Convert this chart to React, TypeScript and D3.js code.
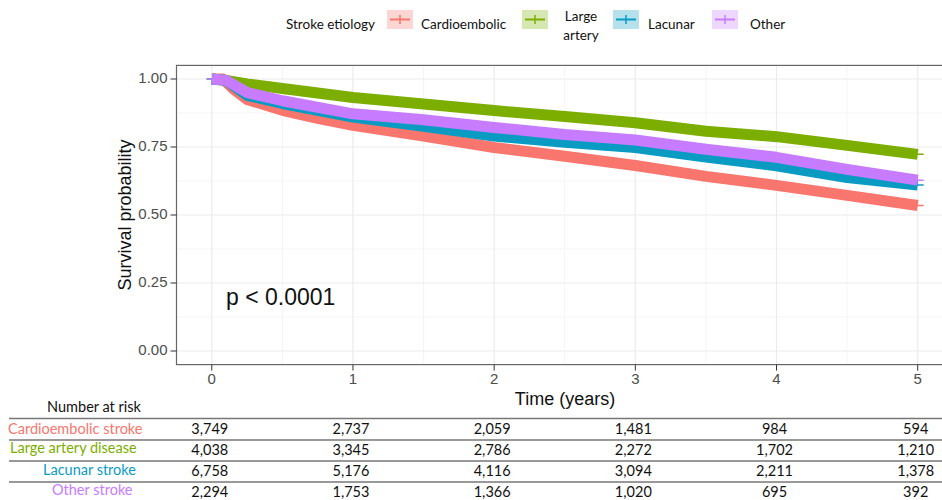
import React from 'react';
import * as d3 from 'd3';

// survival estimates (time in years, probability)
const cardioTimes = [0, 0.08, 0.15, 0.25, 0.5, 0.75, 1, 1.5, 2, 2.5, 3, 3.5, 4, 4.5, 5];
const cardioSurv = [1, 1, 0.965, 0.925, 0.885, 0.855, 0.83, 0.79, 0.748, 0.716, 0.682, 0.642, 0.609, 0.572, 0.535];
const largeTimes = [0, 0.1, 0.25, 0.5, 1, 1.5, 2, 2.5, 3, 3.5, 4, 4.5, 5];
const largeSurv = [1, 0.995, 0.982, 0.965, 0.932, 0.908, 0.884, 0.862, 0.839, 0.808, 0.788, 0.756, 0.723];
const lacunarTimes = [0, 0.1, 0.25, 0.5, 1, 1.5, 2, 2.5, 3, 3.5, 4, 4.5, 5];
const lacunarSurv = [1, 0.995, 0.94, 0.91, 0.86, 0.826, 0.79, 0.767, 0.748, 0.713, 0.681, 0.638, 0.61];
const otherTimes = [0, 0.1, 0.25, 0.5, 1, 1.5, 2, 2.5, 3, 3.5, 4, 4.5, 5];
const otherSurv = [1, 0.995, 0.95, 0.92, 0.872, 0.85, 0.822, 0.796, 0.776, 0.742, 0.712, 0.668, 0.628];

const legendLabels = ['Cardioembolic', 'Large\nartery', 'Lacunar', 'Other'];
const colors = ['#F8766D', '#7CAE00', '#0A9BC2', '#C77CFF'];
const tableLabels = ['Cardioembolic stroke', 'Large artery disease', 'Lacunar stroke', 'Other stroke'];
const tableTimes = [0, 1, 2, 3, 4, 5];
const riskCardio = ['3,749', '2,737', '2,059', '1,481', '984', '594'];
const riskLarge = ['4,038', '3,345', '2,786', '2,272', '1,702', '1,210'];
const riskLacunar = ['6,758', '5,176', '4,116', '3,094', '2,211', '1,378'];
const riskOther = ['2,294', '1,753', '1,366', '1,020', '695', '392'];
const xTicks = [0, 1, 2, 3, 4, 5];
const yTicks = [0, 0.25, 0.5, 0.75, 1];

const W = 942, H = 500;
const axisFont = 'Liberation Sans, Arial, sans-serif';
const tableFont = 'Lato, Liberation Sans, sans-serif';

export default function App() {
  const x = d3.scaleLinear().domain([-0.25, 5.25]).range([176.5, 953]);
  const y = d3.scaleLinear().domain([-0.05, 1.05]).range([364.6, 65.4]);

  const series = [
    { t: cardioTimes, s: cardioSurv },
    { t: largeTimes, s: largeSurv },
    { t: lacunarTimes, s: lacunarSurv },
    { t: otherTimes, s: otherSurv },
  ];
  const line = d3.line<[number, number]>().x(d => x(d[0])).y(d => y(d[1]));
  const risks = [riskCardio, riskLarge, riskLacunar, riskOther];

  const minorX = xTicks.slice(0, -1).map(v => v + 0.5);
  const minorY = yTicks.slice(0, -1).map(v => v + 0.125);

  const [px0, px1] = x.range();
  const [py0, py1] = y.range();

  // legend layout (x of key box, label x)
  const keyX = [387, 522, 613, 712];
  const labX = [421, 581, 648, 750];

  const rowLabelX = [8, 10, 43, 52];
  const rowLabelY = [430, 449, 471, 491];
  const rowNumY = [430, 451.5, 472.5, 493];
  const ruleY = [418.5, 440, 461, 482];

  return (
    <svg width={W} height={H} style={{ position: 'absolute', left: 0, top: 0, background: '#fff' }}>
      <defs>
        <clipPath id="panel">
          <rect x={px0} y={py1} width={px1 - px0} height={py0 - py1} />
        </clipPath>
      </defs>

      {/* legend */}
      <g fontFamily={tableFont} fontSize={13.5} fill="#111">
        <text x={286} y={26} dominantBaseline="middle">Stroke etiology</text>
        {legendLabels.map((lab, i) => (
          <g key={lab}>
            <rect x={keyX[i]} y={10} width={26} height={19} fill={colors[i]} fillOpacity={0.3} />
            <line x1={keyX[i] + 3} x2={keyX[i] + 23} y1={19.5} y2={19.5} stroke={colors[i]} strokeWidth={2} />
            <line x1={keyX[i] + 13} x2={keyX[i] + 13} y1={15} y2={24} stroke={colors[i]} strokeWidth={1.5} />
            {lab.includes('\n') ? (
              <text x={labX[i]} y={18} textAnchor="middle" dominantBaseline="middle">
                <tspan x={labX[i]} y={18}>{lab.split('\n')[0]}</tspan>
                <tspan x={labX[i]} y={37}>{lab.split('\n')[1]}</tspan>
              </text>
            ) : (
              <text x={labX[i]} y={26} dominantBaseline="middle">{lab}</text>
            )}
          </g>
        ))}
      </g>

      {/* grid */}
      <g>
        {minorX.map(v => (
          <line key={'mx' + v} x1={x(v)} x2={x(v)} y1={py1} y2={py0} stroke="#F2F2F2" strokeWidth={0.8} />
        ))}
        {minorY.map(v => (
          <line key={'my' + v} x1={px0} x2={px1} y1={y(v)} y2={y(v)} stroke="#F2F2F2" strokeWidth={0.8} />
        ))}
        {xTicks.map(v => (
          <line key={'gx' + v} x1={x(v)} x2={x(v)} y1={py1} y2={py0} stroke="#EBEBEB" strokeWidth={1.2} />
        ))}
        {yTicks.map(v => (
          <line key={'gy' + v} x1={px0} x2={px1} y1={y(v)} y2={y(v)} stroke="#EBEBEB" strokeWidth={1.2} />
        ))}
      </g>

      {/* curves: dense censor ticks make them look like bands */}
      <g clipPath="url(#panel)">
        {series.map((sr, i) => {
          const pts = sr.t.map((t, j) => [t, sr.s[j]] as [number, number]);
          const last = pts[pts.length - 1];
          return (
            <g key={i}>
              <path d={line(pts) || ''} fill="none" stroke={colors[i]} strokeWidth={11} strokeLinejoin="round" />
              <line x1={x(last[0]) - 5} x2={x(last[0]) + 6} y1={y(last[1])} y2={y(last[1])} stroke={colors[i]} strokeWidth={1.5} />
              <line x1={x(0) - 5} x2={x(0)} y1={y(1)} y2={y(1)} stroke={colors[i]} strokeWidth={1.5} />
            </g>
          );
        })}
      </g>

      {/* panel border */}
      <rect x={px0} y={py1} width={px1 - px0} height={py0 - py1} fill="none" stroke="#666" strokeWidth={1.2} />

      {/* axes */}
      <g fontFamily={axisFont} fontSize={15} fill="#4D4D4D">
        {yTicks.map(v => (
          <g key={'yt' + v}>
            <line x1={px0 - 6} x2={px0} y1={y(v)} y2={y(v)} stroke="#333" strokeWidth={1} />
            <text x={px0 - 9} y={y(v)} textAnchor="end" dominantBaseline="middle">{d3.format('.2f')(v)}</text>
          </g>
        ))}
        {xTicks.map(v => (
          <g key={'xt' + v}>
            <line x1={x(v)} x2={x(v)} y1={py0} y2={py0 + 6} stroke="#333" strokeWidth={1} />
            <text x={x(v)} y={380} textAnchor="middle" dominantBaseline="middle">{v}</text>
          </g>
        ))}
      </g>
      <text x={126} y={215} transform="rotate(-90,126,215)" textAnchor="middle" dominantBaseline="middle"
        fontFamily={axisFont} fontSize={18} fill="#111">Survival probability</text>
      <text x={565} y={400} textAnchor="middle" dominantBaseline="middle"
        fontFamily={axisFont} fontSize={18} fill="#111">Time (years)</text>
      <text x={226} y={305} fontFamily={axisFont} fontSize={23} fill="#111">p &lt; 0.0001</text>

      {/* risk table */}
      <g fontFamily={tableFont} fontSize={14.5}>
        <text x={94} y={408} textAnchor="middle" dominantBaseline="middle" fill="#111">Number at risk</text>
        {ruleY.map(v => (
          <line key={'r' + v} x1={9} x2={W} y1={v} y2={v} stroke="#777" strokeWidth={1.6} />
        ))}
        {tableLabels.map((lab, i) => (
          <text key={lab} x={rowLabelX[i]} y={rowLabelY[i]} dominantBaseline="middle" fill={colors[i]}>{lab}</text>
        ))}
        {risks.map((row, i) =>
          row.map((val, j) => (
            <text key={i + '-' + j} x={x(tableTimes[j]) - 2} y={rowNumY[i]} textAnchor="middle" dominantBaseline="middle" fill="#111">{val}</text>
          ))
        )}
      </g>
    </svg>
  );
}
